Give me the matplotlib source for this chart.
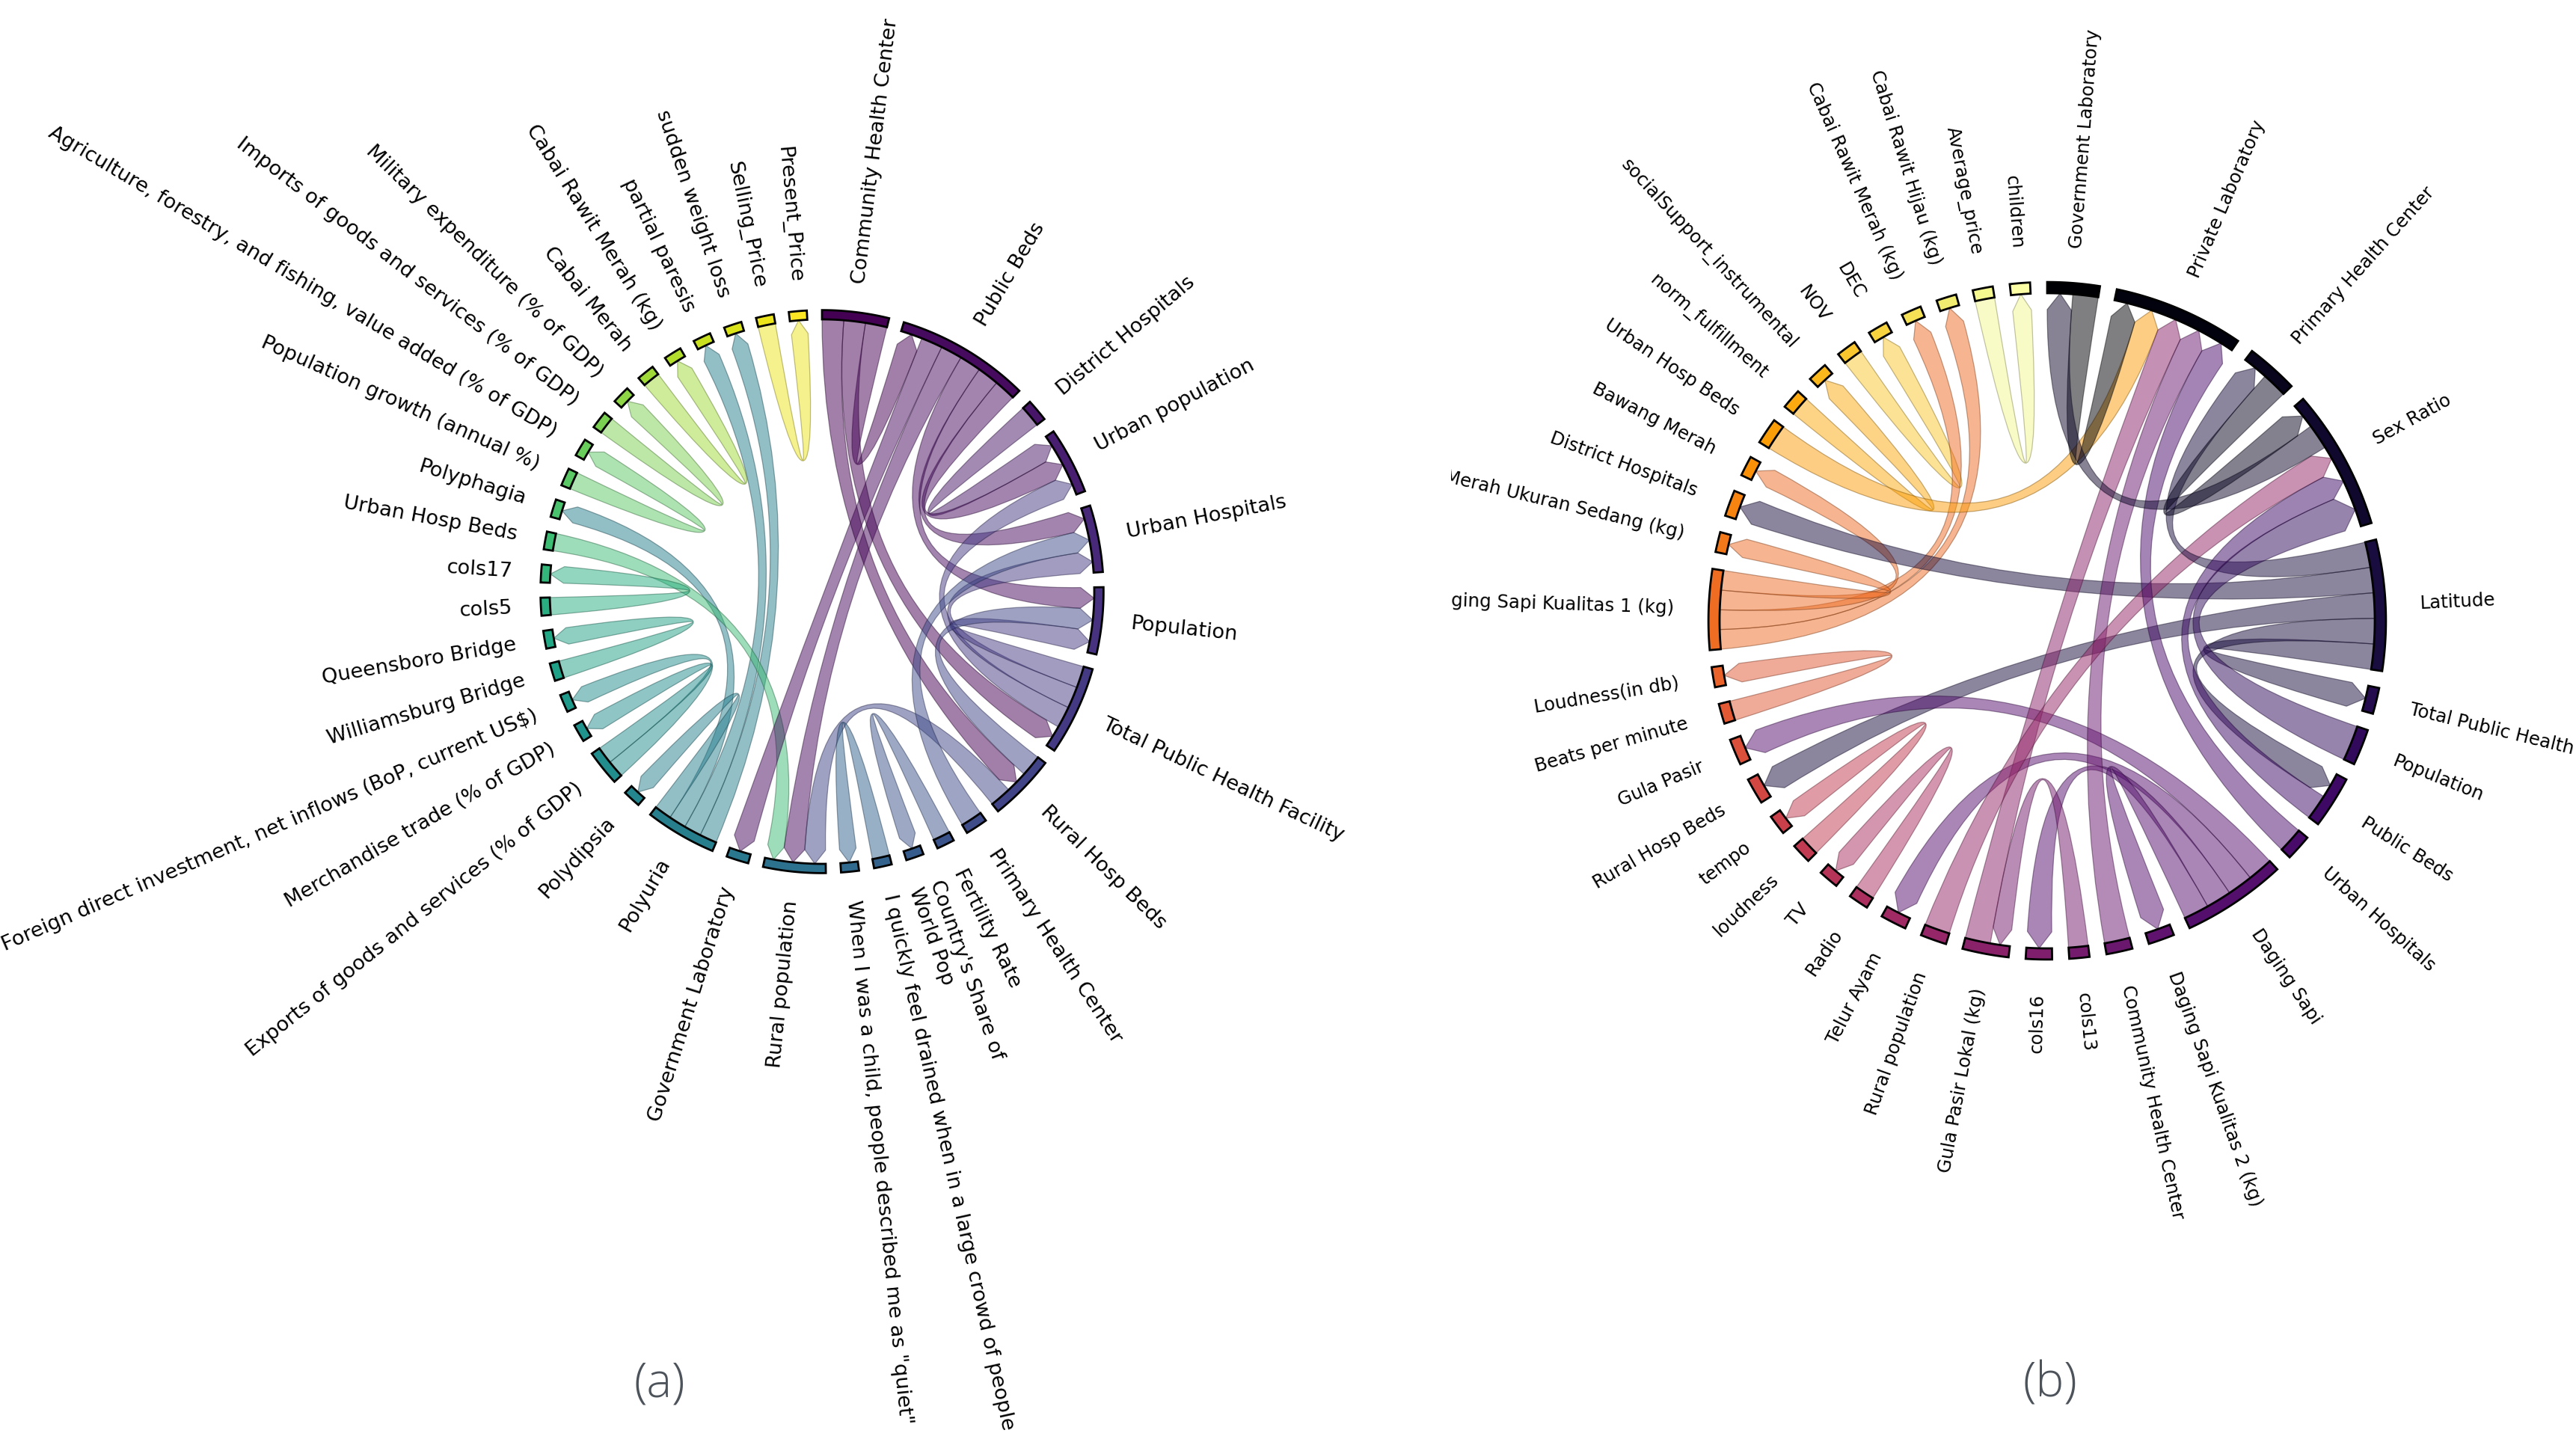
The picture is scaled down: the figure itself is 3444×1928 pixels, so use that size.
import numpy as np
import matplotlib
matplotlib.use("Agg")
import matplotlib.pyplot as plt
from matplotlib.path import Path
from matplotlib.patches import PathPatch, Polygon

W, H = 3444, 1928

# ---- panel (a) ----
names_a = [
    "Community Health Center", "Public Beds", "District Hospitals", "Urban population",
    "Urban Hospitals", "Population", "Total Public Health Facility", "Rural Hosp Beds",
    "Primary Health Center", "Fertility Rate", "Country's Share of\nWorld Pop",
    "I quickly feel drained when in a large crowd of people",
    "When I was a child, people described me as \"quiet\"",
    "Rural population", "Government Laboratory", "Polyuria", "Polydipsia",
    "Exports of goods and services (% of GDP)", "Merchandise trade (% of GDP)",
    "Foreign direct investment, net inflows (BoP, current US$)",
    "Williamsburg Bridge", "Queensboro Bridge", "cols5", "cols17", "Urban Hosp Beds",
    "Polyphagia", "Population growth (annual %)",
    "Agriculture, forestry, and fishing, value added (% of GDP)",
    "Imports of goods and services (% of GDP)", "Military expenditure (% of GDP)",
    "Cabai Merah", "Cabai Rawit Merah (kg)", "partial paresis", "sudden weight loss",
    "Selling_Price", "Present_Price",
]
src_a = [
    "Selling_Price", "Polyuria", "Polyuria", "Cabai Merah",
    "Imports of goods and services (% of GDP)", "Population growth (annual %)",
    "Polyuria", "Urban Hosp Beds", "cols5", "Williamsburg Bridge",
    "Exports of goods and services (% of GDP)", "Exports of goods and services (% of GDP)",
    "Polyuria", "Public Beds", "Public Beds", "Rural Hosp Beds",
    "I quickly feel drained when in a large crowd of people", "Fertility Rate",
    "Community Health Center", "Community Health Center", "Community Health Center",
    "District Hospitals", "Public Beds", "Public Beds", "Public Beds",
    "Total Public Health Facility", "Total Public Health Facility",
    "Total Public Health Facility", "Rural Hosp Beds", "Primary Health Center",
]
dst_a = [
    "Present_Price", "sudden weight loss", "partial paresis", "Cabai Rawit Merah (kg)",
    "Military expenditure (% of GDP)",
    "Agriculture, forestry, and fishing, value added (% of GDP)",
    "Polyphagia", "Rural population", "cols17", "Queensboro Bridge",
    "Foreign direct investment, net inflows (BoP, current US$)",
    "Merchandise trade (% of GDP)", "Polydipsia", "Government Laboratory",
    "Rural population", "Rural population",
    "When I was a child, people described me as \"quiet\"", "Country's Share of\nWorld Pop",
    "Public Beds", "Rural Hosp Beds", "Total Public Health Facility",
    "Urban population", "Urban population", "Urban Hospitals", "Population",
    "Urban population", "Urban Hospitals", "Population", "Population", "Urban Hospitals",
]
val_a = [1.0] * 13 + [1.25] * 3 + [1.0] * 2 + [1.25] * 12

# ---- panel (b) ----
names_b = [
    "Government Laboratory", "Private Laboratory", "Primary Health Center", "Sex Ratio",
    "Latitude", "Total Public Health Facility", "Population", "Public Beds",
    "Urban Hospitals", "Daging Sapi", "Daging Sapi Kualitas 2 (kg)",
    "Community Health Center", "cols13", "cols16", "Gula Pasir Lokal (kg)",
    "Rural population", "Telur Ayam", "Radio", "TV", "loudness", "tempo",
    "Rural Hosp Beds", "Gula Pasir", "Beats per minute", "Loudness(in db)",
    "Daging Sapi Kualitas 1 (kg)", "Bawang Merah Ukuran Sedang (kg)",
    "District Hospitals", "Bawang Merah", "Urban Hosp Beds", "norm_fulfillment",
    "socialSupport_instrumental", "NOV", "DEC", "Cabai Rawit Merah (kg)",
    "Cabai Rawit Hijau (kg)", "Average_price", "children",
]
src_b = [
    "Average_price", "NOV", "norm_fulfillment",
    "Daging Sapi Kualitas 1 (kg)", "Daging Sapi Kualitas 1 (kg)",
    "Daging Sapi Kualitas 1 (kg)", "Daging Sapi Kualitas 1 (kg)",
    "Urban Hosp Beds", "Latitude", "Beats per minute", "Latitude",
    "Daging Sapi", "loudness", "Radio", "Daging Sapi", "Daging Sapi", "Daging Sapi",
    "cols13", "Gula Pasir Lokal (kg)", "Community Health Center", "Rural population",
    "Urban Hospitals", "Government Laboratory", "Sex Ratio", "Latitude", "Latitude",
    "Latitude", "Population", "Public Beds", "Primary Health Center",
]
dst_b = [
    "children", "DEC", "socialSupport_instrumental",
    "Cabai Rawit Hijau (kg)", "Cabai Rawit Merah (kg)", "Bawang Merah",
    "Bawang Merah Ukuran Sedang (kg)", "Private Laboratory", "District Hospitals",
    "Loudness(in db)", "Rural Hosp Beds", "Gula Pasir", "tempo", "TV", "Telur Ayam",
    "cols16", "Daging Sapi Kualitas 2 (kg)", "Gula Pasir Lokal (kg)",
    "Private Laboratory", "Private Laboratory", "Sex Ratio", "Private Laboratory",
    "Private Laboratory", "Government Laboratory", "Total Public Health Facility",
    "Public Beds", "Primary Health Center", "Sex Ratio", "Sex Ratio", "Sex Ratio",
]
val_b = [1.0] * 7 + [1.3, 1.3, 1.0, 1.3, 1.3, 1.0, 1.0, 1.3, 1.3, 1.3,
                     1.0, 1.3, 1.3, 1.3, 1.3, 1.3, 1.3, 1.3, 1.3, 1.3, 1.8, 1.3, 1.3]


def chord_diagram(ax, names, src, dst, val, cx, cy, R, cmap, fs, gap):
    n = len(names)
    idx = {nm: i for i, nm in enumerate(names)}
    tot = np.zeros(n)
    ends = [[] for _ in range(n)]
    for k, (s, d, v) in enumerate(zip(src, dst, val)):
        i, j = idx[s], idx[d]
        tot[i] += v
        tot[j] += v
        ends[i].append((k, j, v))
        ends[j].append((k, i, v))
    unit = (360.0 - n * gap) / tot.sum()
    start = np.zeros(n)
    th = 0.0
    for i in range(n):
        start[i] = th
        th += tot[i] * unit + gap
    seg = {}
    for i in range(n):
        ends[i].sort(key=lambda e: -((e[1] - i) % n))
        t = start[i]
        for k, j, v in ends[i]:
            seg[(k, i)] = (t, t + v * unit)
            t += v * unit
    colors = plt.get_cmap(cmap)(np.linspace(0, 1, n))

    def pt(t, r):
        a = np.radians(t)
        return (cx + R * r * np.sin(a), cy - R * r * np.cos(a))

    thick, h = 0.034, 0.05
    # chords
    for k, (s, d, v) in enumerate(zip(src, dst, val)):
        i, j = idx[s], idx[d]
        a1, a2 = seg[(k, i)]
        b1, b2 = seg[(k, j)]
        verts = [pt(t, 1) for t in np.linspace(a1, a2, 16)]
        codes = [Path.MOVETO] + [Path.LINETO] * 15
        verts += [(cx, cy), pt(b1, 1 - h), pt((b1 + b2) / 2, 1), pt(b2, 1 - h),
                  (cx, cy), pt(a1, 1), pt(a1, 1)]
        codes += [Path.CURVE3, Path.CURVE3, Path.LINETO, Path.LINETO,
                  Path.CURVE3, Path.CURVE3, Path.CLOSEPOLY]
        c = colors[i]
        ax.add_patch(PathPatch(Path(verts, codes), facecolor=(*c[:3], 0.5),
                               edgecolor=(c[0] * 0.5, c[1] * 0.5, c[2] * 0.5, 0.45),
                               lw=0.45, zorder=2))
    # arcs + labels
    for i in range(n):
        t0, t1 = start[i], start[i] + tot[i] * unit
        ts = np.linspace(t0, t1, 30)
        poly = [pt(t, 1 + thick) for t in ts] + [pt(t, 1) for t in ts[::-1]]
        ax.add_patch(Polygon(poly, closed=True, facecolor=colors[i],
                             edgecolor="black", lw=1.0, zorder=3))
        mid = (t0 + t1) / 2
        x, y = pt(mid, 1.14)
        if mid % 360 < 180:
            rot, ha = 90 - mid, "left"
        else:
            rot, ha = 270 - mid, "right"
        ax.text(x, y, names[i], rotation=rot, rotation_mode="anchor", ha=ha,
                va="center", fontsize=fs, clip_on=True, zorder=4)


fig = plt.figure(figsize=(W / 200, H / 200), dpi=200)
split = 1940
ax_a = fig.add_axes([0, 0, split / W, 1])
ax_a.set_xlim(0, split)
ax_a.set_ylim(H, 0)
ax_a.axis("off")
ax_b = fig.add_axes([split / W, 0, 1 - split / W, 1])
ax_b.set_xlim(split, W)
ax_b.set_ylim(H, 0)
ax_b.axis("off")

chord_diagram(ax_a, names_a, src_a, dst_a, val_a, 1099, 791, 364, "viridis", 9.8, 3.1)
chord_diagram(ax_b, names_b, src_b, dst_b, val_b, 2737, 830, 438, "inferno", 8.8, 2.9)

for label, xc in [("(a)", 882), ("(b)", 2741)]:
    fig.text(xc / W, 1 - 1851 / H, label, ha="center", va="center", fontsize=23,
             color="#4d535a", family=["Open Sans", "DejaVu Sans"], weight="light")

fig.savefig("out.png", dpi=200, facecolor="white")
